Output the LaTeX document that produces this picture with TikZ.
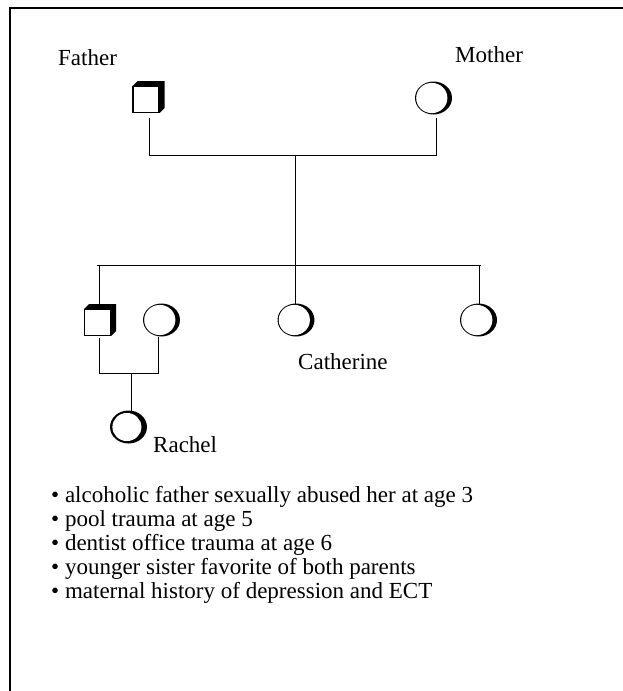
\documentclass[tikz,border=0pt]{standalone}
\usepackage{fontspec}
\setmainfont{Liberation Serif}
\usetikzlibrary{shapes.geometric}
\begin{document}
\begin{tikzpicture}[x=1pt,y=-1pt,
  conn/.style={line width=0.9pt},
  lbl/.style={anchor=base west, inner sep=0, font=\fontsize{23}{24}\selectfont},
  malebox/.pic={
    \fill[black] (-13.5,-13.5) -- (-8.5,-18.5) -- (18.5,-18.5) -- (18.5,8.5) -- (13.5,13.5) -- (13.5,-13.5) -- cycle;
    \node[draw, line width=1.4pt, fill=white, minimum size=26pt, inner sep=0] (-b) at (0,0) {};
  },
  femalecirc/.pic={
    \node[ellipse, fill=black, minimum width=37pt, minimum height=33pt, inner sep=0] (-c) at (0,0) {};
    \fill[white] (-1.7,0) ellipse [x radius=15.6, y radius=15.1];
  }
]
\useasboundingbox (0,0) rectangle (623,691);
% frame
\draw[line width=1.1pt] (10,691) -- (10,8) -- (623,8);

% people
\pic (father) at (146,99.5) {malebox};
\pic (mother) at (433.5,98) {femalecirc};
\pic (son) at (97.5,322.5) {malebox};
\pic (wife) at (161.5,320) {femalecirc};
\pic (cath) at (296,320) {femalecirc};
\pic (sis) at (478.5,320) {femalecirc};
\pic[scale=0.93] (rachel) at (128.5,427) {femalecirc};

% junction points
\coordinate (fb) at (149,118);
\coordinate (mb) at (436,118);
\coordinate (fj) at (149,155);
\coordinate (mj) at (436,155);
\coordinate (pj) at (295,155);
\coordinate (sj) at (295,265);
\coordinate (sl) at (97,265);
\coordinate (sr) at (481,265);
\coordinate (d1) at (99,265);
\coordinate (d1e) at (99,304);
\coordinate (d2e) at (295,303.5);
\coordinate (d3) at (479,265);
\coordinate (d3e) at (479,303.5);
\coordinate (sonb) at (99,338);
\coordinate (sonj) at (99,373);
\coordinate (wifeb) at (158,336.5);
\coordinate (wifej) at (158,373);
\coordinate (cj) at (131,373);
\coordinate (re) at (131,411.5);

% connectors
\draw[conn] (fb) -- (fj) -- (mj) -- (mb);
\draw[conn] (pj) -- (sj);
\draw[conn] (sl) -- (sr);
\draw[conn] (d1) -- (d1e);
\draw[conn] (sj) -- (d2e);
\draw[conn] (d3) -- (d3e);
\draw[conn] (sonb) -- (sonj) -- (wifej) -- (wifeb);
\draw[conn] (cj) -- (re);

% labels
\node[lbl] (lfather) at (58,65) {Father};
\node[lbl] (lmother) at (455,62) {Mother};
\node[lbl] (lcath) at (298,369) {Catherine};
\node[lbl] (lrachel) at (153,452) {Rachel};

% notes
\node[lbl] (n1) at (51,502) {\textbullet\ alcoholic father sexually abused her at age 3};
\node[lbl] (n2) at (51,526) {\textbullet\ pool trauma at age 5};
\node[lbl] (n3) at (51,550) {\textbullet\ dentist office trauma at age 6};
\node[lbl] (n4) at (51,574) {\textbullet\ younger sister favorite of both parents};
\node[lbl] (n5) at (51,598) {\textbullet\ maternal history of depression and ECT};
\end{tikzpicture}
\end{document}
